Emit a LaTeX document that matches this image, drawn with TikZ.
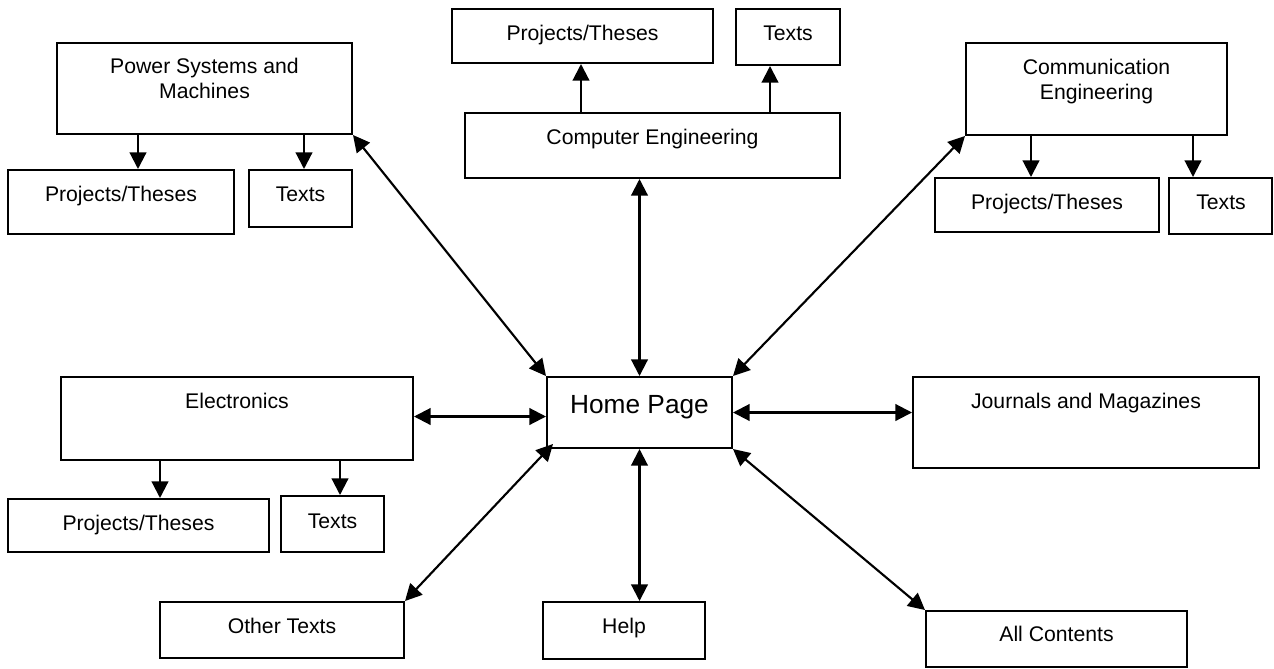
\documentclass[tikz,border=0pt]{standalone}
\usepackage{fontspec}
\setmainfont{Liberation Sans}
\usetikzlibrary{arrows.meta,fit,calc}
\begin{document}
\begin{tikzpicture}[x=0.75pt,y=-0.75pt,
  box/.style={draw, line width=1.5pt, inner sep=0pt},
  lbl/.style={font=\fontsize{15.9pt}{18.4pt}\selectfont, align=center, inner sep=0pt, anchor=base},
  biglbl/.style={font=\fontsize{19.7pt}{23pt}\selectfont, align=center, inner sep=0pt, anchor=base},
  tip/.tip={Triangle[length=12.5pt,width=12.5pt]},
  arr/.style={line width=1.6pt, -tip},
  darr/.style={line width=1.6pt, tip-tip}]
\useasboundingbox (0,0) rectangle (1274,668);
% boxes
\node[box, fit={(57,43) (352,134)}] (psm) {};
\node[box, fit={(8,170) (234,234)}] (psmpt) {};
\node[box, fit={(249,170) (352,227)}] (psmtx) {};
\node[box, fit={(452,9) (713,63)}] (cept) {};
\node[box, fit={(736,9) (840,65)}] (cetx) {};
\node[box, fit={(465,113) (840,178)}] (ce) {};
\node[box, fit={(966,43) (1227,135)}] (comm) {};
\node[box, fit={(935,178) (1159,232)}] (commpt) {};
\node[box, fit={(1169,178) (1272,234)}] (commtx) {};
\node[box, fit={(547,377) (732,448)}] (home) {};
\node[box, fit={(61,377) (413,460)}] (elec) {};
\node[box, fit={(8,499) (269,552)}] (elecpt) {};
\node[box, fit={(281,496) (384,552)}] (electx) {};
\node[box, fit={(913,377) (1259,468)}] (jm) {};
\node[box, fit={(160,602) (404,658)}] (ot) {};
\node[box, fit={(543,602) (705,659)}] (help) {};
\node[box, fit={(926,611) (1187,667)}] (ac) {};
% texts
\node[lbl] (psm-t) at (204.5,98.5) {Power Systems and\\Machines};
\node[lbl] (psmpt-t) at (121,201) {Projects/Theses};
\node[lbl] (psmtx-t) at (300.5,201) {Texts};
\node[lbl] (cept-t) at (582.5,40) {Projects/Theses};
\node[lbl] (cetx-t) at (788,40) {Texts};
\node[lbl] (ce-t) at (652.5,144) {Computer Engineering};
\node[lbl] (comm-t) at (1096.5,99) {Communication\\Engineering};
\node[lbl] (commpt-t) at (1047,209) {Projects/Theses};
\node[lbl] (commtx-t) at (1221,209) {Texts};
\node[biglbl] (home-t) at (639.5,413) {Home Page};
\node[lbl] (elec-t) at (237,408) {Electronics};
\node[lbl] (elecpt-t) at (138.5,530) {Projects/Theses};
\node[lbl] (electx-t) at (332.5,528) {Texts};
\node[lbl] (jm-t) at (1086,408) {Journals and Magazines};
\node[lbl] (ot-t) at (282,633) {Other Texts};
\node[lbl] (help-t) at (624,633) {Help};
\node[lbl] (ac-t) at (1056.5,641) {All Contents};
% connectors to home page
\draw[darr] (psm.south east) -- (home.north west);
\draw[darr] (home.north |- ce.south) -- (home.north);
\draw[darr] (comm.south west) -- (home.north east);
\path ($(home.west)+(0,4)$) coordinate (hw);
\draw[darr] (hw -| elec.east) -- (hw);
\draw[darr] (home.east) -- (home.east -| jm.west);
\draw[darr] (home.south) -- (home.south |- help.north);
\draw[darr] (ot.north east) -- ($(home.south west)+(7,-5)$);
\draw[darr] (home.south east) -- (ac.north west);
% sub-arrows
\path (psm.south west) ++(82,0) coordinate (t1);
\draw[arr] (t1) -- (t1 |- psmpt.north);
\path (psm.south west) ++(248,0) coordinate (t2);
\draw[arr] (t2) -- (t2 |- psmtx.north);
\path (ce.north west) ++(117,0) coordinate (t3);
\draw[arr] (t3) -- (t3 |- cept.south);
\path (ce.north west) ++(306,0) coordinate (t4);
\draw[arr] (t4) -- (t4 |- cetx.south);
\path (comm.south west) ++(66,0) coordinate (t5);
\draw[arr] (t5) -- (t5 |- commpt.north);
\path (comm.south west) ++(228,0) coordinate (t6);
\draw[arr] (t6) -- (t6 |- commtx.north);
\path (elec.south west) ++(100,0) coordinate (t7);
\draw[arr] (t7) -- (t7 |- elecpt.north);
\path (elec.south west) ++(280,0) coordinate (t8);
\draw[arr] (t8) -- (t8 |- electx.north);
\end{tikzpicture}
\end{document}
